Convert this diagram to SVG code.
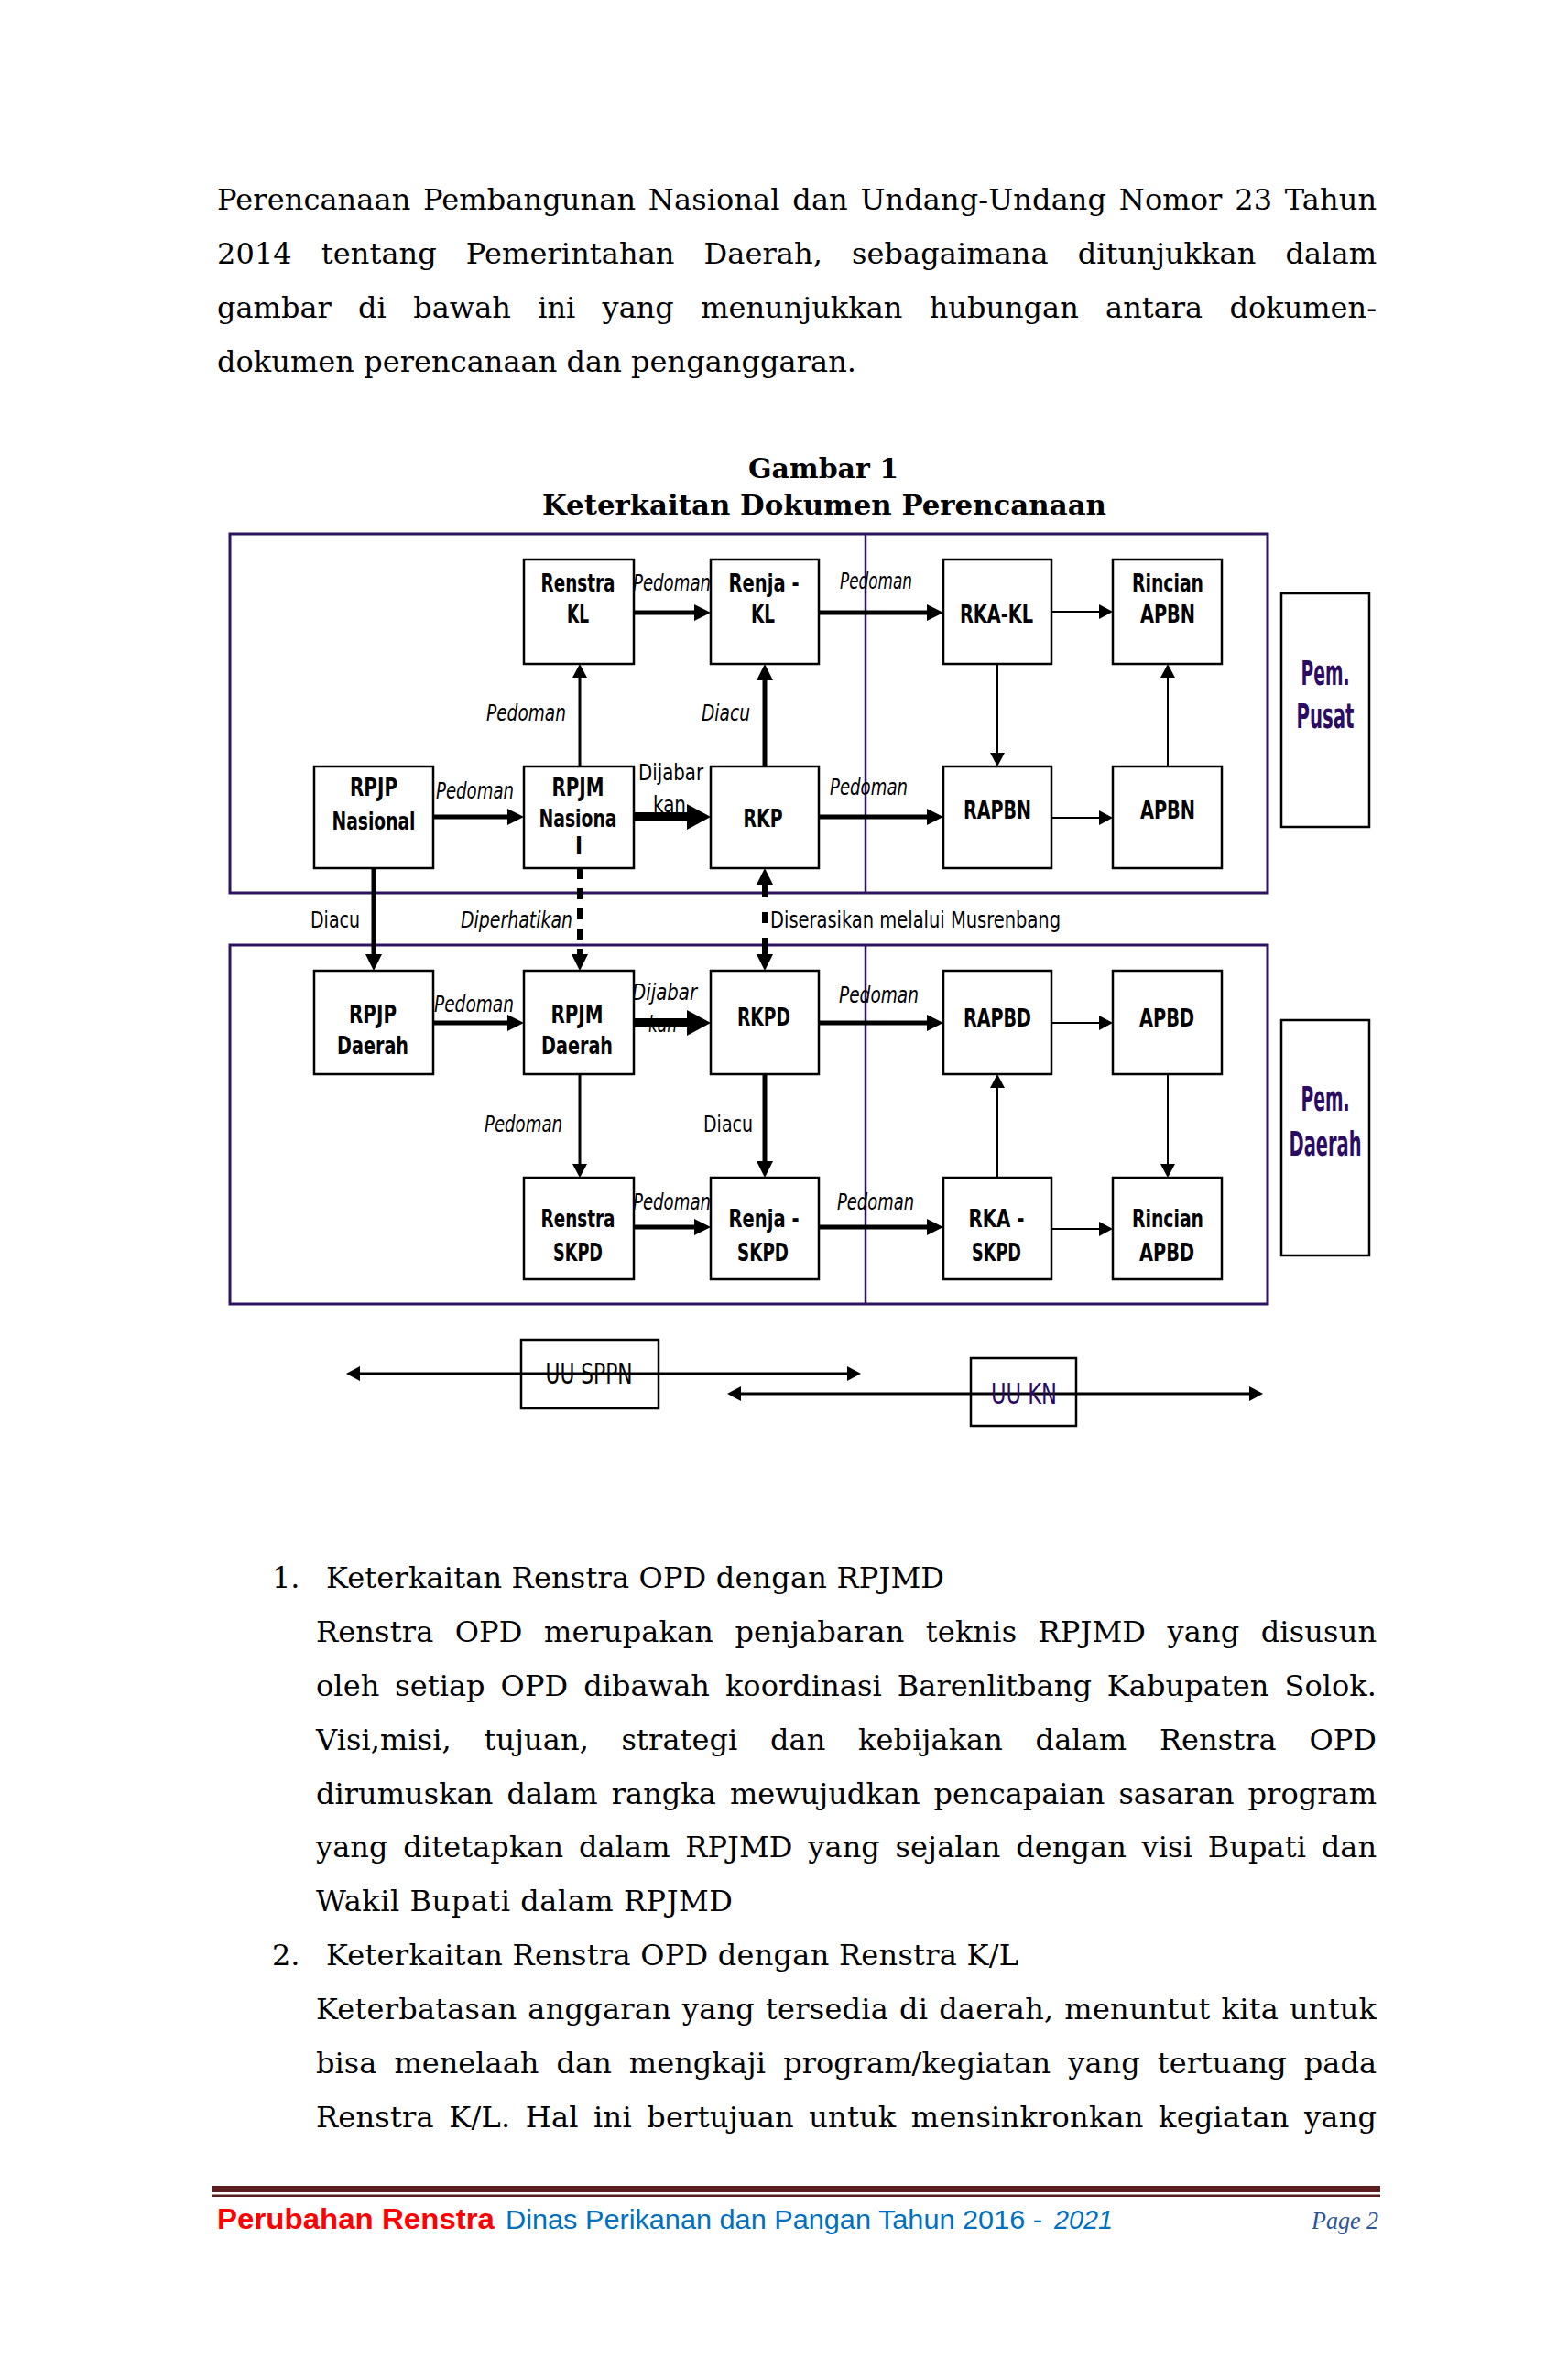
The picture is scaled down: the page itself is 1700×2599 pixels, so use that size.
<svg xmlns="http://www.w3.org/2000/svg" width="1700" height="2599" viewBox="0 0 1700 2599">
<style>
.body{font-family:"DejaVu Serif","Liberation Serif",serif;font-size:32px;fill:#000}
.title{font-family:"DejaVu Serif","Liberation Serif",serif;font-size:30px;font-weight:bold;text-anchor:middle;fill:#000}
.nl{font-family:"Liberation Sans Narrow","DejaVu Sans Condensed","Liberation Sans",sans-serif;font-weight:bold;font-size:26px;text-anchor:middle;fill:#000}
.pem{font-family:"Liberation Sans Narrow","DejaVu Sans Condensed","Liberation Sans",sans-serif;font-weight:bold;font-size:38px;text-anchor:middle;fill:#2C0B63}
.uu{font-family:"Liberation Sans Narrow","DejaVu Sans Condensed","Liberation Sans",sans-serif;font-size:32px;text-anchor:middle}
.el{font-family:"Liberation Sans Narrow","DejaVu Sans Condensed","Liberation Sans",sans-serif;font-style:italic;font-size:24px;fill:#000}
.eu{font-family:"Liberation Sans Narrow","DejaVu Sans Condensed","Liberation Sans",sans-serif;font-size:24px;fill:#000}
.box{fill:#fff;stroke:#000;stroke-width:2.5}
.obox{fill:none;stroke:#000;stroke-width:2.5}
.frame{fill:none;stroke:#2E1460;stroke-width:3}
.div{stroke:#2E1460;stroke-width:2.5}
.c2{fill:none;stroke:#000;stroke-width:2}
.c3{fill:none;stroke:#000;stroke-width:3}
.c5{fill:none;stroke:#000;stroke-width:5}
.c6{fill:none;stroke:#000;stroke-width:6}
.c10{fill:none;stroke:#000;stroke-width:10}
.foot{font-family:"Liberation Sans",Arial,sans-serif;font-size:32px}
.foot2{font-family:"Liberation Sans",Arial,sans-serif;font-size:30px;fill:#0070C0}
</style>
<defs>
<marker id="as" viewBox="0 0 15 16" refX="7" refY="8" markerWidth="15" markerHeight="16" markerUnits="userSpaceOnUse" orient="auto-start-reverse"><path d="M0,0L15,8L0,16z" fill="#000"/></marker>
<marker id="am" viewBox="0 0 18 18" refX="8" refY="9" markerWidth="18" markerHeight="18" markerUnits="userSpaceOnUse" orient="auto-start-reverse"><path d="M0,0L18,9L0,18z" fill="#000"/></marker>
<marker id="ab" viewBox="0 0 26 28" refX="10" refY="14" markerWidth="26" markerHeight="28" markerUnits="userSpaceOnUse" orient="auto-start-reverse"><path d="M0,0L26,14L0,28z" fill="#000"/></marker>
</defs>
<rect x="0" y="0" width="1700" height="2599" fill="#fff"/>

<g id="intro">
<text class="body" x="237" y="229" word-spacing="3.4" textLength="1266" lengthAdjust="spacing">Perencanaan Pembangunan Nasional dan Undang-Undang Nomor 23 Tahun</text>
<text class="body" x="237" y="288" word-spacing="21.8" textLength="1266" lengthAdjust="spacing">2014 tentang Pemerintahan Daerah, sebagaimana ditunjukkan dalam</text>
<text class="body" x="237" y="347" word-spacing="19.1" textLength="1266" lengthAdjust="spacing">gambar di bawah ini yang menunjukkan hubungan antara dokumen-</text>
<text class="body" x="237" y="406" textLength="698" lengthAdjust="spacing">dokumen perencanaan dan penganggaran.</text>
</g>

<g id="figure-title">
<text class="title" x="899" y="522" textLength="164" lengthAdjust="spacingAndGlyphs">Gambar 1</text>
<text class="title" x="900" y="562" textLength="616" lengthAdjust="spacingAndGlyphs">Keterkaitan Dokumen Perencanaan</text>
</g>

<g id="frames">
<rect class="frame" x="251" y="583" width="1133" height="392"/>
<line class="div" x1="945" y1="583" x2="945" y2="975"/>
<rect class="frame" x="251" y="1032" width="1133" height="392"/>
<line class="div" x1="945" y1="1032" x2="945" y2="1424"/>
</g>

<g id="connectors">
<text class="el" x="691" y="645" textLength="85" lengthAdjust="spacingAndGlyphs">Pedoman</text>
<text class="el" x="917" y="643" textLength="79" lengthAdjust="spacingAndGlyphs">Pedoman</text>
<text class="el" x="531" y="787" textLength="87" lengthAdjust="spacingAndGlyphs">Pedoman</text>
<text class="el" x="766" y="787" textLength="53" lengthAdjust="spacingAndGlyphs">Diacu</text>
<text class="el" x="476" y="872" textLength="85" lengthAdjust="spacingAndGlyphs">Pedoman</text>
<text class="eu" x="697" y="852" textLength="71" lengthAdjust="spacingAndGlyphs">Dijabar</text>
<text class="eu" x="713" y="887" textLength="36" lengthAdjust="spacingAndGlyphs">kan</text>
<text class="el" x="906" y="868" textLength="85" lengthAdjust="spacingAndGlyphs">Pedoman</text>
<text class="eu" x="339" y="1013" textLength="54" lengthAdjust="spacingAndGlyphs">Diacu</text>
<text class="el" x="503" y="1013" textLength="122" lengthAdjust="spacingAndGlyphs">Diperhatikan</text>
<text class="eu" x="841" y="1013" textLength="317" lengthAdjust="spacingAndGlyphs">Diserasikan melalui Musrenbang</text>
<text class="el" x="474" y="1105" textLength="87" lengthAdjust="spacingAndGlyphs">Pedoman</text>
<text class="el" x="690" y="1092" textLength="71" lengthAdjust="spacingAndGlyphs">Dijabar</text>
<text class="el" x="708" y="1127" textLength="31" lengthAdjust="spacingAndGlyphs">kan</text>
<text class="el" x="916" y="1095" textLength="87" lengthAdjust="spacingAndGlyphs">Pedoman</text>
<text class="el" x="529" y="1236" textLength="85" lengthAdjust="spacingAndGlyphs">Pedoman</text>
<text class="eu" x="768" y="1236" textLength="54" lengthAdjust="spacingAndGlyphs">Diacu</text>
<text class="el" x="691" y="1321" textLength="85" lengthAdjust="spacingAndGlyphs">Pedoman</text>
<text class="el" x="914" y="1321" textLength="84" lengthAdjust="spacingAndGlyphs">Pedoman</text>

<path class="c5" d="M692,669H766" marker-end="url(#am)"/>
<path class="c5" d="M894,669H1020" marker-end="url(#am)"/>
<path class="c2" d="M1148,668H1207" marker-end="url(#as)"/>
<path class="c2" d="M1089,725V829" marker-end="url(#as)"/>
<path class="c2" d="M1275,837V733" marker-end="url(#as)"/>
<path class="c2" d="M1148,893H1207" marker-end="url(#as)"/>
<path class="c5" d="M894,892H1020" marker-end="url(#am)"/>
<path class="c5" d="M473,892H562" marker-end="url(#am)"/>
<path class="c10" d="M692,892H760" marker-end="url(#ab)"/>
<path class="c3" d="M633,837V733" marker-end="url(#as)"/>
<path class="c5" d="M835,837V735" marker-end="url(#am)"/>
<path class="c5" d="M408,948V1050" marker-end="url(#am)"/>
<path class="c6" d="M633,948V1050" stroke-dasharray="12 10" marker-end="url(#am)"/>
<path class="c6" d="M835,958V1050" stroke-dasharray="22 16 12 16 40" marker-start="url(#am)" marker-end="url(#am)"/>
<path class="c5" d="M473,1117H562" marker-end="url(#am)"/>
<path class="c10" d="M692,1117H760" marker-end="url(#ab)"/>
<path class="c5" d="M894,1117H1020" marker-end="url(#am)"/>
<path class="c2" d="M1148,1117H1207" marker-end="url(#as)"/>
<path class="c2" d="M1275,1173V1278" marker-end="url(#as)"/>
<path class="c2" d="M1089,1286V1181" marker-end="url(#as)"/>
<path class="c2" d="M1148,1342H1207" marker-end="url(#as)"/>
<path class="c5" d="M894,1340H1020" marker-end="url(#am)"/>
<path class="c5" d="M692,1340H766" marker-end="url(#am)"/>
<path class="c3" d="M633,1173V1278" marker-end="url(#as)"/>
<path class="c5" d="M835,1173V1276" marker-end="url(#am)"/>
<path class="c3" d="M386,1500H932" marker-start="url(#as)" marker-end="url(#as)"/>
<path class="c3" d="M802,1522H1371" marker-start="url(#as)" marker-end="url(#as)"/>
</g>

<g id="renstra-kl"><rect class="box" x="572" y="611" width="120" height="114"/><text class="nl" x="631" y="646" textLength="81" lengthAdjust="spacingAndGlyphs">Renstra</text><text class="nl" x="631" y="680" textLength="24" lengthAdjust="spacingAndGlyphs">KL</text></g>
<g id="renja-kl"><rect class="box" x="776" y="611" width="118" height="114"/><text class="nl" x="834" y="646" textLength="77" lengthAdjust="spacingAndGlyphs">Renja -</text><text class="nl" x="833" y="680" textLength="26" lengthAdjust="spacingAndGlyphs">KL</text></g>
<g id="rka-kl"><rect class="box" x="1030" y="611" width="118" height="114"/><text class="nl" x="1088" y="680" textLength="80" lengthAdjust="spacingAndGlyphs">RKA-KL</text></g>
<g id="rincian-apbn"><rect class="box" x="1215" y="611" width="119" height="114"/><text class="nl" x="1275" y="646" textLength="78" lengthAdjust="spacingAndGlyphs">Rincian</text><text class="nl" x="1275" y="680" textLength="60" lengthAdjust="spacingAndGlyphs">APBN</text></g>
<g id="rpjp-nasional"><rect class="box" x="343" y="837" width="130" height="111"/><text class="nl" x="408" y="869" textLength="52" lengthAdjust="spacingAndGlyphs">RPJP</text><text class="nl" x="408" y="906" textLength="91" lengthAdjust="spacingAndGlyphs">Nasional</text></g>
<g id="rpjm-nasional"><rect class="box" x="572" y="837" width="120" height="111"/><text class="nl" x="631" y="869" textLength="57" lengthAdjust="spacingAndGlyphs">RPJM</text><text class="nl" x="631" y="903" textLength="85" lengthAdjust="spacingAndGlyphs">Nasiona</text><text class="nl" x="632" y="933">l</text></g>
<g id="rkp"><rect class="box" x="776" y="837" width="118" height="111"/><text class="nl" x="833" y="903" textLength="43" lengthAdjust="spacingAndGlyphs">RKP</text></g>
<g id="rapbn"><rect class="box" x="1030" y="837" width="118" height="111"/><text class="nl" x="1089" y="894" textLength="74" lengthAdjust="spacingAndGlyphs">RAPBN</text></g>
<g id="apbn"><rect class="box" x="1215" y="837" width="119" height="111"/><text class="nl" x="1275" y="894" textLength="60" lengthAdjust="spacingAndGlyphs">APBN</text></g>
<g id="pem-pusat"><rect class="box" x="1399" y="648" width="96" height="255"/><text class="pem" x="1447" y="748" textLength="53" lengthAdjust="spacingAndGlyphs">Pem.</text><text class="pem" x="1447" y="795" textLength="63" lengthAdjust="spacingAndGlyphs">Pusat</text></g>

<g id="rpjp-daerah"><rect class="box" x="343" y="1060" width="130" height="113"/><text class="nl" x="407" y="1117" textLength="52" lengthAdjust="spacingAndGlyphs">RPJP</text><text class="nl" x="407" y="1151" textLength="78" lengthAdjust="spacingAndGlyphs">Daerah</text></g>
<g id="rpjm-daerah"><rect class="box" x="572" y="1060" width="120" height="113"/><text class="nl" x="630" y="1117" textLength="57" lengthAdjust="spacingAndGlyphs">RPJM</text><text class="nl" x="630" y="1151" textLength="78" lengthAdjust="spacingAndGlyphs">Daerah</text></g>
<g id="rkpd"><rect class="box" x="776" y="1060" width="118" height="113"/><text class="nl" x="834" y="1120" textLength="58" lengthAdjust="spacingAndGlyphs">RKPD</text></g>
<g id="rapbd"><rect class="box" x="1030" y="1060" width="118" height="113"/><text class="nl" x="1089" y="1121" textLength="74" lengthAdjust="spacingAndGlyphs">RAPBD</text></g>
<g id="apbd"><rect class="box" x="1215" y="1060" width="119" height="113"/><text class="nl" x="1274" y="1121" textLength="60" lengthAdjust="spacingAndGlyphs">APBD</text></g>
<g id="renstra-skpd"><rect class="box" x="572" y="1286" width="120" height="111"/><text class="nl" x="631" y="1340" textLength="81" lengthAdjust="spacingAndGlyphs">Renstra</text><text class="nl" x="631" y="1377" textLength="54" lengthAdjust="spacingAndGlyphs">SKPD</text></g>
<g id="renja-skpd"><rect class="box" x="776" y="1286" width="118" height="111"/><text class="nl" x="834" y="1340" textLength="77" lengthAdjust="spacingAndGlyphs">Renja -</text><text class="nl" x="833" y="1377" textLength="56" lengthAdjust="spacingAndGlyphs">SKPD</text></g>
<g id="rka-skpd"><rect class="box" x="1030" y="1286" width="118" height="111"/><text class="nl" x="1088" y="1340" textLength="61" lengthAdjust="spacingAndGlyphs">RKA -</text><text class="nl" x="1088" y="1377" textLength="54" lengthAdjust="spacingAndGlyphs">SKPD</text></g>
<g id="rincian-apbd"><rect class="box" x="1215" y="1286" width="119" height="111"/><text class="nl" x="1275" y="1340" textLength="78" lengthAdjust="spacingAndGlyphs">Rincian</text><text class="nl" x="1274" y="1377" textLength="60" lengthAdjust="spacingAndGlyphs">APBD</text></g>
<g id="pem-daerah"><rect class="box" x="1399" y="1114" width="96" height="257"/><text class="pem" x="1447" y="1213" textLength="53" lengthAdjust="spacingAndGlyphs">Pem.</text><text class="pem" x="1447" y="1262" textLength="79" lengthAdjust="spacingAndGlyphs">Daerah</text></g>

<g id="uu-sppn"><rect class="obox" x="569" y="1463" width="150" height="75"/><text class="uu" x="643" y="1511" textLength="95" lengthAdjust="spacingAndGlyphs" fill="#000">UU SPPN</text></g>
<g id="uu-kn"><rect class="obox" x="1060" y="1483" width="115" height="74"/><text class="uu" x="1118" y="1533" textLength="72" lengthAdjust="spacingAndGlyphs" fill="#2C0B63">UU KN</text></g>

<g id="list">
<text class="body" x="297" y="1734">1.</text>
<text class="body" x="356" y="1734" textLength="675" lengthAdjust="spacing">Keterkaitan Renstra OPD dengan RPJMD</text>
<text class="body" x="345" y="1793" word-spacing="13" textLength="1158" lengthAdjust="spacing">Renstra OPD merupakan penjabaran teknis RPJMD yang disusun</text>
<text class="body" x="345" y="1852" word-spacing="6.7" textLength="1158" lengthAdjust="spacing">oleh setiap OPD dibawah koordinasi Barenlitbang Kabupaten Solok.</text>
<text class="body" x="345" y="1911" word-spacing="25.4" textLength="1158" lengthAdjust="spacing">Visi,misi, tujuan, strategi dan kebijakan dalam Renstra OPD</text>
<text class="body" x="345" y="1970" word-spacing="4.8" textLength="1158" lengthAdjust="spacing">dirumuskan dalam rangka mewujudkan pencapaian sasaran program</text>
<text class="body" x="345" y="2028" word-spacing="6.4" textLength="1158" lengthAdjust="spacing">yang ditetapkan dalam RPJMD yang sejalan dengan visi Bupati dan</text>
<text class="body" x="345" y="2087" textLength="455" lengthAdjust="spacing">Wakil Bupati dalam RPJMD</text>
<text class="body" x="297" y="2146">2.</text>
<text class="body" x="356" y="2146" textLength="756" lengthAdjust="spacing">Keterkaitan Renstra OPD dengan Renstra K/L</text>
<text class="body" x="345" y="2205" word-spacing="1.6" textLength="1158" lengthAdjust="spacing">Keterbatasan anggaran yang tersedia di daerah, menuntut kita untuk</text>
<text class="body" x="345" y="2264" word-spacing="8.9" textLength="1158" lengthAdjust="spacing">bisa menelaah dan mengkaji program/kegiatan yang tertuang pada</text>
<text class="body" x="345" y="2323" word-spacing="6" textLength="1158" lengthAdjust="spacing">Renstra K/L. Hal ini bertujuan untuk mensinkronkan kegiatan yang</text>
</g>

<g id="footer">
<rect x="232" y="2387" width="1275" height="7" fill="#5C1E1E"/>
<rect x="232" y="2396.5" width="1275" height="2.5" fill="#5C1E1E"/>
<text class="foot" x="237" y="2434" font-weight="bold" fill="#FF0000" textLength="303" lengthAdjust="spacingAndGlyphs">Perubahan Renstra</text>
<text class="foot2" x="552" y="2434" textLength="586" lengthAdjust="spacingAndGlyphs">Dinas Perikanan dan Pangan Tahun 2016 -</text>
<text class="foot2" x="1151" y="2434" font-style="italic" textLength="64" lengthAdjust="spacingAndGlyphs">2021</text>
<text x="1432" y="2434" font-family="'Liberation Serif',serif" font-style="italic" font-size="28" fill="#2F5597" textLength="73" lengthAdjust="spacingAndGlyphs">Page 2</text>
</g>
</svg>
